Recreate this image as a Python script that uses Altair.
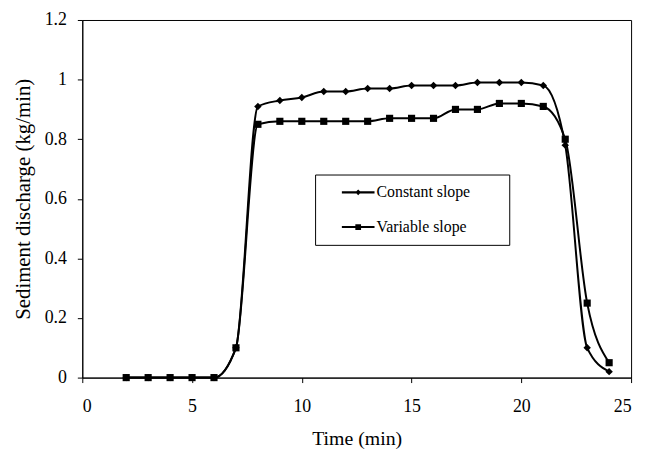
import altair as alt
import pandas as pd

# ---------------- data ----------------
time_min = [2, 3, 4, 5, 6, 7, 8, 9, 10, 11, 12, 13, 14, 15, 16, 17, 18, 19, 20, 21, 22, 23, 24]
constant_slope = [0, 0, 0, 0, 0, 0.10, 0.91, 0.93, 0.94, 0.96, 0.96, 0.97, 0.97, 0.98,
                  0.98, 0.98, 0.99, 0.99, 0.99, 0.98, 0.78, 0.10, 0.02]
variable_slope = [0, 0, 0, 0, 0, 0.10, 0.85, 0.86, 0.86, 0.86, 0.86, 0.86, 0.87, 0.87,
                  0.87, 0.90, 0.90, 0.92, 0.92, 0.91, 0.80, 0.25, 0.05]
series_names = ["Constant slope", "Variable slope"]
x_ticks = [0, 5, 10, 15, 20, 25]
y_ticks = [0, 0.2, 0.4, 0.6, 0.8, 1.0, 1.2]

rows = []
for t, c, v in zip(time_min, constant_slope, variable_slope):
    rows.append({"time": t, "value": c, "series": series_names[0]})
    rows.append({"time": t, "value": v, "series": series_names[1]})
df = pd.DataFrame(rows)

FONT = "Liberation Serif"

x_enc = alt.X("time:Q",
              scale=alt.Scale(domain=[0, 25], nice=False, zero=False),
              axis=alt.Axis(values=x_ticks, title="Time (min)", format="d",
                            labelPadding=15, titlePadding=14))
y_enc = alt.Y("value:Q",
              scale=alt.Scale(domain=[0, 1.2], nice=False),
              axis=alt.Axis(values=y_ticks, title="Sediment discharge (kg/min)", format="~g",
                            labelPadding=11, titlePadding=11, titleFontSize=21))

lines = alt.Chart(df).mark_line(
    interpolate="monotone", color="black", strokeWidth=2
).encode(x=x_enc, y=y_enc, detail="series:N")

points_c = alt.Chart(df).transform_filter(
    alt.datum.series == series_names[0]
).mark_point(shape="diamond", filled=True, color="black", opacity=1, size=56).encode(x=x_enc, y=y_enc)

points_v = alt.Chart(df).transform_filter(
    alt.datum.series == series_names[1]
).mark_point(shape="square", filled=True, color="black", opacity=1, size=52).encode(x=x_enc, y=y_enc)


# legend symbols: short line with the marker in its middle (unit box scaled by sqrt(size)/2);
# a trailing move-to widens the legend frame to the reference's width without drawing anything
def legend_path(marker):
    dx, half_len, th, m, reach = 3.19, 2.06, 0.13, 0.36, 20.9
    p = (f"M{dx - half_len},{-th}L{dx + half_len},{-th}L{dx + half_len},{th}"
         f"L{dx - half_len},{th}Z")
    if marker == "diamond":
        p += f"M{dx},{-m}L{dx + m},0L{dx},{m}L{dx - m},0Z"
    else:
        p += f"M{dx - m},{-m}L{dx + m},{-m}L{dx + m},{m}L{dx - m},{m}Z"
    p += f"M{reach},0"
    return p


legend_layer = alt.Chart(df).transform_filter("false").mark_point(
    filled=True, color="black", opacity=1
).encode(
    x=x_enc, y=y_enc,
    shape=alt.Shape(
        "series:N",
        scale=alt.Scale(domain=series_names,
                        range=[legend_path("diamond"), legend_path("square")]),
        legend=alt.Legend(
            title=None, orient="none", legendX=235, legendY=156, direction="vertical",
            strokeColor="black", fillColor="white", padding=10,
            labelFont=FONT, labelFontSize=16, labelColor="black",
            labelOffset=36, symbolSize=256, rowPadding=19,
            symbolFillColor="black", symbolStrokeWidth=0,
        ),
    ),
)

chart = alt.layer(lines, points_c, points_v, legend_layer).properties(
    width=554, height=361,
    padding={"left": 75, "top": 10, "right": 9, "bottom": 74},
    autosize=alt.AutoSizeParams(type="none"),
    background="white",
).configure_view(
    stroke="black", strokeWidth=1
).configure_axis(
    labelFont=FONT, labelFontSize=18, labelColor="black",
    titleFont=FONT, titleFontSize=20, titleFontWeight="normal", titleColor="black",
    tickColor="black", domainColor="black", tickSize=5, grid=False,
)

chart.save("out.html", embed_options={"renderer": "svg", "actions": False})
